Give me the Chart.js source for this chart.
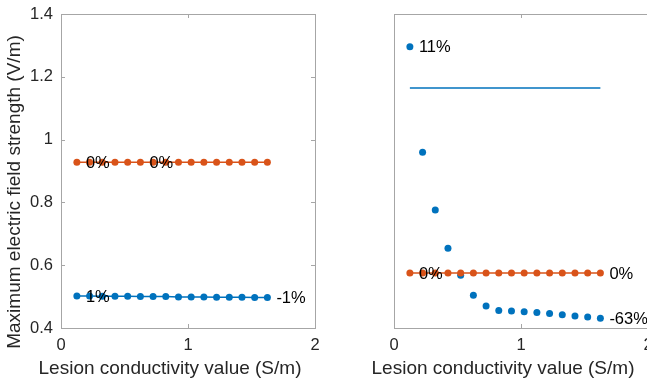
<!DOCTYPE html>
<html>
<head>
<meta charset="utf-8">
<script src="https://cdn.jsdelivr.net/npm/chart.js@4.4.1/dist/chart.umd.min.js"></script>
<style>
  html, body { margin: 0; padding: 0; background: #fff; overflow: hidden; }
  #wrap { position: relative; width: 647px; height: 379px; overflow: hidden; }
  .panel { position: absolute; top: 0; height: 379px; width: 330px; }
  #left { left: 0; }
  #right { left: 330px; }
</style>
</head>
<body>
<div id="wrap">
  <div class="panel" id="left"><canvas id="chartLeft" width="330" height="379"></canvas></div>
  <div class="panel" id="right"><canvas id="chartRight" width="330" height="379"></canvas></div>
</div>
<script>
// lesion conductivity (S/m) for every simulated point
const conductivity = [0.125, 0.225, 0.325, 0.425, 0.525, 0.625, 0.725, 0.825,
                      0.925, 1.025, 1.125, 1.225, 1.325, 1.425, 1.525, 1.625];

// left panel: max field strength (V/m)
const leftOrange = [0.928, 0.928, 0.928, 0.928, 0.928, 0.928, 0.928, 0.928,
                    0.928, 0.928, 0.928, 0.928, 0.928, 0.928, 0.928, 0.928];
const leftBlue = [0.502, 0.502, 0.501, 0.501, 0.501, 0.500, 0.500, 0.500,
                  0.499, 0.499, 0.499, 0.498, 0.498, 0.498, 0.497, 0.497];

// right panel
const rightOrange = [0.575, 0.575, 0.575, 0.575, 0.575, 0.575, 0.575, 0.575,
                     0.575, 0.575, 0.575, 0.575, 0.575, 0.575, 0.575, 0.575];
const rightBlue = [1.296, 0.960, 0.776, 0.654, 0.568, 0.504, 0.470, 0.456,
                   0.454, 0.452, 0.449, 0.446, 0.442, 0.438, 0.435, 0.431];
const rightBlueRef = 1.164;

const xTicks = [0, 1, 2];
const yTicks = [0.4, 0.6, 0.8, 1, 1.2, 1.4];

// percent-change annotations: dataset index, point index, text
const leftLabels = [
  { series: 0, index: 0, text: '0%' },
  { series: 0, index: 5, text: '0%' },
  { series: 1, index: 0, text: '1%' },
  { series: 1, index: 15, text: '-1%' }
];
const rightLabels = [
  { series: 0, index: 0, text: '0%' },
  { series: 0, index: 15, text: '0%' },
  { series: 1, index: 0, text: '11%' },
  { series: 1, index: 15, text: '-63%' }
];

const xTitle = 'Lesion conductivity value (S/m)';
const yTitle = 'Maximum electric field strength (V/m)';

const BLUE = '#0072BD';
const ORANGE = '#D95319';
const TEXT = '#262626';
const AXIS = '#a6a6a6';
const FONT = '"Liberation Sans", Arial, Helvetica, sans-serif';

const toPoints = vals => vals.map((y, i) => ({ x: conductivity[i], y }));

// box around the axes with inward tick marks (matlab style)
const framePlugin = {
    id: 'frame',
    beforeDatasetsDraw(chart, args, opts) {
        const { ctx, chartArea: a, scales } = chart;
        const tl = 4;
        ctx.save();
        ctx.strokeStyle = AXIS;
        ctx.lineWidth = 1;
        ctx.strokeRect(Math.round(a.left) + 0.5, Math.round(a.top) + 0.5,
                       Math.round(a.width), Math.round(a.height));
        ctx.beginPath();
        xTicks.forEach(v => {
            const px = Math.round(scales.x.getPixelForValue(v)) + 0.5;
            ctx.moveTo(px, a.bottom); ctx.lineTo(px, a.bottom - tl);
            ctx.moveTo(px, a.top); ctx.lineTo(px, a.top + tl);
        });
        if (opts.yTicks) {
            yTicks.forEach(v => {
                const py = Math.round(scales.y.getPixelForValue(v)) + 0.5;
                ctx.moveTo(a.left, py); ctx.lineTo(a.left + tl, py);
                ctx.moveTo(a.right, py); ctx.lineTo(a.right - tl, py);
            });
        }
        ctx.stroke();
        ctx.restore();
    }
};

// point annotations + axis titles
const textPlugin = {
    id: 'texts',
    afterDatasetsDraw(chart, args, opts) {
        const { ctx, chartArea: a } = chart;
        ctx.save();
        ctx.fillStyle = '#000';
        ctx.font = `16.5px ${FONT}`;
        ctx.textAlign = 'left';
        ctx.textBaseline = 'middle';
        opts.labels.forEach(l => {
            const pt = chart.getDatasetMeta(l.series).data[l.index];
            ctx.fillText(l.text, pt.x + 9, pt.y + 1);
        });

        ctx.fillStyle = TEXT;
        ctx.font = `19px ${FONT}`;
        ctx.textAlign = 'center';
        ctx.fillText(xTitle, (a.left + a.right) / 2 - 18, 369);
        if (opts.yTitle) {
            ctx.translate(15, (a.top + a.bottom) / 2 + 21);
            ctx.rotate(-Math.PI / 2);
            ctx.fillText(yTitle, 0, 0);
        }
        ctx.restore();
    }
};

function makeChart(canvasId, datasets, opts) {
    return new Chart(document.getElementById(canvasId), {
        type: 'scatter',
        data: { datasets },
        options: {
            responsive: false,
            animation: false,
            devicePixelRatio: 1,
            layout: { padding: { top: 14, right: opts.padRight, left: 0, bottom: 0 } },
            plugins: {
                legend: { display: false },
                tooltip: { enabled: false },
                frame: { yTicks: opts.yTickLabels },
                texts: { labels: opts.labels, yTitle: opts.yTickLabels }
            },
            scales: {
                x: {
                    type: 'linear',
                    min: 0, max: 2,
                    grid: { display: false, drawTicks: false },
                    border: { display: false },
                    afterBuildTicks: s => { s.ticks = xTicks.map(v => ({ value: v })); },
                    afterFit: s => { s.height = 51; s.paddingLeft = 0; s.paddingRight = 0; },
                    ticks: {
                        padding: 8,
                        color: TEXT,
                        maxRotation: 0,
                        font: { family: FONT, size: 16.5 },
                        callback: v => String(v)
                    }
                },
                y: {
                    type: 'linear',
                    min: 0.4, max: 1.4,
                    grid: { display: false, drawTicks: false },
                    border: { display: false },
                    afterBuildTicks: s => { s.ticks = yTicks.map(v => ({ value: v })); },
                    afterFit: s => { s.width = opts.yWidth; s.paddingTop = 0; s.paddingBottom = 0; },
                    ticks: {
                        display: opts.yTickLabels,
                        padding: 8,
                        color: TEXT,
                        font: { family: FONT, size: 16.5 },
                        callback: v => String(Math.round(v * 10) / 10)
                    }
                }
            }
        },
        plugins: [framePlugin, textPlugin]
    });
}

const dotStyle = color => ({
    borderColor: color,
    backgroundColor: color,
    pointBackgroundColor: color,
    pointBorderWidth: 0,
    pointRadius: 3.5,
    borderWidth: 1.5
});

makeChart('chartLeft', [
    { label: 'orange', data: toPoints(leftOrange), showLine: true, ...dotStyle(ORANGE) },
    { label: 'blue', data: toPoints(leftBlue), showLine: true, ...dotStyle(BLUE) }
], { padRight: 15, yWidth: 61, yTickLabels: true, labels: leftLabels });

makeChart('chartRight', [
    { label: 'orange', data: toPoints(rightOrange), showLine: true, ...dotStyle(ORANGE) },
    { label: 'blue', data: toPoints(rightBlue), showLine: false, ...dotStyle(BLUE) },
    { label: 'blue ref', data: toPoints(conductivity.map(() => rightBlueRef)), showLine: true,
      borderColor: BLUE, borderWidth: 1.5, pointRadius: 0 }
], { padRight: 12, yWidth: 64, yTickLabels: false, labels: rightLabels });
</script>
</body>
</html>
